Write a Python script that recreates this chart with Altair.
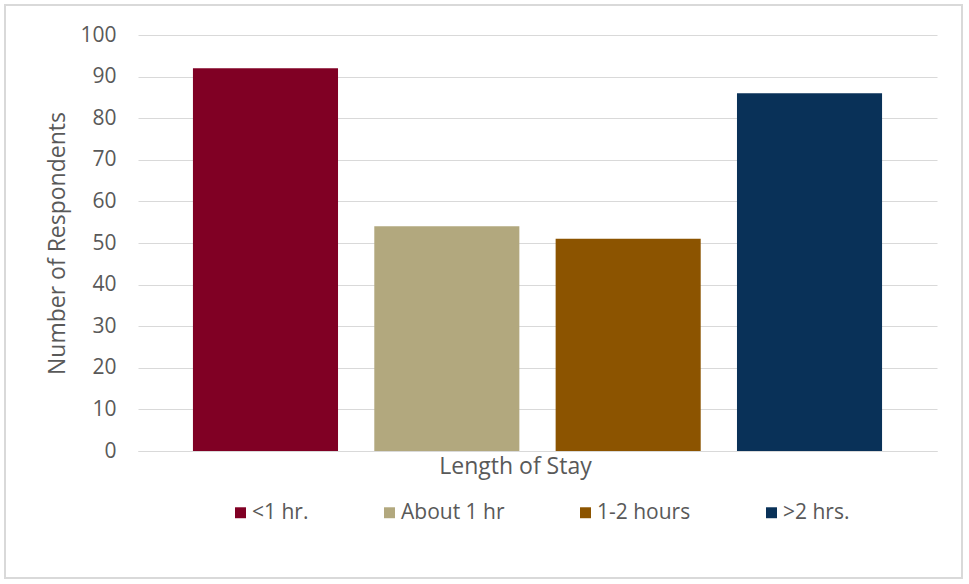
import altair as alt
import pandas as pd

# Survey responses by length of stay
categories = ["<1 hr.", "About 1 hr", "1-2 hours", ">2 hrs."]
respondents = [92, 54, 51, 86]
colors = ["#800024", "#B2A87E", "#8C5400", "#093158"]

df = pd.DataFrame({"stay": categories, "count": respondents})

FONT = "Open Sans"
TEXT = "#595959"
GRID = "#D9D9D9"

W, H = 799, 416
PAD_L, PAD_T = 138, 35
PAD_R, PAD_B = 969 - PAD_L - W, 584 - PAD_T - H

bars = alt.Chart(df).mark_bar().encode(
    x=alt.X(
        "stay:N",
        sort=categories,
        scale=alt.Scale(paddingInner=0.2, paddingOuter=0.303),
        axis=alt.Axis(
            title="Length of Stay",
            labels=False,
            ticks=False,
            domain=True,
            domainColor=GRID,
            titleFont=FONT,
            titleFontSize=23,
            titleFontWeight="normal",
            titleColor=TEXT,
            titleX=377,
            titlePadding=4,
        ),
    ),
    y=alt.Y(
        "count:Q",
        scale=alt.Scale(domain=[0, 100]),
        axis=alt.Axis(
            title="Number of Respondents",
            values=list(range(0, 101, 10)),
            ticks=False,
            domain=False,
            gridColor=GRID,
            labelFont=FONT,
            labelFontSize=21,
            labelColor=TEXT,
            labelPadding=22,
            titleFont=FONT,
            titleFontSize=23,
            titleFontWeight="normal",
            titleColor=TEXT,
            titlePadding=10,
        ),
    ),
    color=alt.Color(
        "stay:N",
        sort=categories,
        scale=alt.Scale(domain=categories, range=colors),
        legend=alt.Legend(
            title=None,
            orient="none",
            direction="horizontal",
            legendX=92,
            legendY=467,
            symbolType="square",
            symbolSize=120,
            symbolStrokeWidth=0,
            labelFont=FONT,
            labelFontSize=21,
            labelColor=TEXT,
            labelOffset=1,
            columnPadding=70,
        ),
    ),
)

# Light frame around the whole chart
frame = alt.Chart(df).mark_rect(
    fill=None, stroke="#D9D9D9", strokeWidth=2, clip=False
).encode(
    x=alt.value(5 - PAD_L),
    x2=alt.value(962 - PAD_L),
    y=alt.value(5 - PAD_T),
    y2=alt.value(578 - PAD_T),
)

chart = (
    alt.layer(bars, frame)
    .properties(
        width=W,
        height=H,
        autosize=alt.AutoSizeParams(type="none"),
        padding={"left": PAD_L, "top": PAD_T, "right": PAD_R, "bottom": PAD_B},
        background="white",
    )
    .configure_view(stroke=None)
)

chart.save("out.html", embed_options={"renderer": "svg", "actions": False})
